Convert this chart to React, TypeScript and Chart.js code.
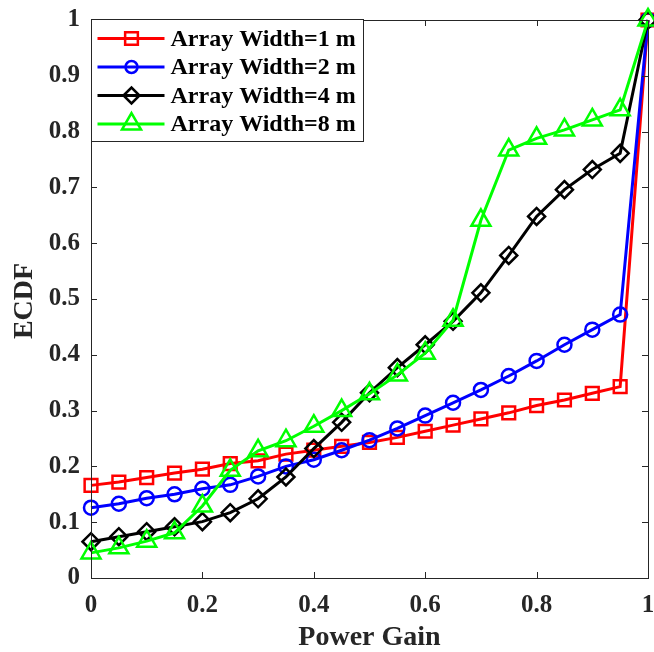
import React, { useEffect, useRef } from "react";
import { Chart, registerables } from "chart.js";

Chart.register(...registerables);

// Power gain sample points (x axis)
const powerGain = [0, 0.05, 0.1, 0.15, 0.2, 0.25, 0.3, 0.35, 0.4, 0.45, 0.5, 0.55, 0.6, 0.65, 0.7, 0.75, 0.8, 0.85, 0.9, 0.95, 1];

// ECDF values per array width
const ecdfWidth1m = [0.166, 0.172, 0.18, 0.188, 0.195, 0.205, 0.21, 0.222, 0.229, 0.236, 0.243, 0.252, 0.263, 0.274, 0.285, 0.296, 0.309, 0.319, 0.331, 0.343, 1];
const ecdfWidth2m = [0.126, 0.133, 0.143, 0.15, 0.16, 0.167, 0.182, 0.2, 0.212, 0.229, 0.247, 0.268, 0.291, 0.314, 0.337, 0.362, 0.389, 0.418, 0.445, 0.472, 1];
const ecdfWidth4m = [0.065, 0.074, 0.083, 0.092, 0.101, 0.117, 0.142, 0.181, 0.232, 0.279, 0.332, 0.377, 0.418, 0.46, 0.511, 0.578, 0.648, 0.696, 0.732, 0.761, 1];
const ecdfWidth8m = [0.045, 0.054, 0.066, 0.081, 0.129, 0.193, 0.228, 0.246, 0.272, 0.3, 0.33, 0.364, 0.403, 0.462, 0.641, 0.767, 0.788, 0.803, 0.821, 0.839, 1];

const seriesLabels = ["Array Width=1 m", "Array Width=2 m", "Array Width=4 m", "Array Width=8 m"];
const seriesColors = ["#ff0000", "#0000ff", "#000000", "#00ff00"];
const seriesMarkers = ["rect", "circle", "rectRot", "triangle"];
const seriesMarkerRadius = [9, 7, 8.5, 11];
const legendMarkerRadius = [9, 6, 8, 11];

const xTickValues = [0, 0.2, 0.4, 0.6, 0.8, 1];
const yTickValues = [0, 0.1, 0.2, 0.3, 0.4, 0.5, 0.6, 0.7, 0.8, 0.9, 1];

const xTitle = "Power Gain";
const yTitle = "ECDF";

const SERIF = '"Liberation Serif", "Times New Roman", serif';
const AXIS_COLOR = "#262626";

function fmt(v: number) {
  return String(Number(v.toFixed(2)));
}

function drawMarker(ctx: CanvasRenderingContext2D, style: string, x: number, y: number, r: number) {
  ctx.beginPath();
  if (style === "rect") {
    const s = Math.SQRT1_2 * r;
    ctx.rect(x - s, y - s, 2 * s, 2 * s);
  } else if (style === "circle") {
    ctx.arc(x, y, r, 0, Math.PI * 2);
  } else if (style === "rectRot") {
    ctx.moveTo(x - r, y);
    ctx.lineTo(x, y - r);
    ctx.lineTo(x + r, y);
    ctx.lineTo(x, y + r);
    ctx.closePath();
  } else {
    let a = 0;
    ctx.moveTo(x + Math.sin(a) * r, y - Math.cos(a) * r);
    a += (2 * Math.PI) / 3;
    ctx.lineTo(x + Math.sin(a) * r, y - Math.cos(a) * r);
    a += (2 * Math.PI) / 3;
    ctx.lineTo(x + Math.sin(a) * r, y - Math.cos(a) * r);
    ctx.closePath();
  }
  ctx.stroke();
}

// Box frame with inward ticks, axis titles and the inset legend
const framePlugin = {
  id: "frameAndLegend",
  afterDatasetsDraw(chart: any) {
    const { ctx, chartArea } = chart;
    const { left, right, top, bottom } = chartArea;
    const xs = chart.scales.x;
    const ys = chart.scales.y;
    ctx.save();

    // frame
    ctx.strokeStyle = AXIS_COLOR;
    ctx.lineWidth = 1;
    ctx.strokeRect(Math.round(left) + 0.5, Math.round(top) + 0.5, Math.round(right - left), Math.round(bottom - top));

    // inward ticks
    const tl = 6;
    ctx.beginPath();
    xTickValues.forEach((v) => {
      const px = Math.round(xs.getPixelForValue(v)) + 0.5;
      ctx.moveTo(px, bottom);
      ctx.lineTo(px, bottom - tl);
      ctx.moveTo(px, top);
      ctx.lineTo(px, top + tl);
    });
    yTickValues.forEach((v) => {
      const py = Math.round(ys.getPixelForValue(v)) + 0.5;
      ctx.moveTo(left, py);
      ctx.lineTo(left + tl, py);
      ctx.moveTo(right, py);
      ctx.lineTo(right - tl, py);
    });
    ctx.stroke();

    // axis titles
    ctx.fillStyle = AXIS_COLOR;
    ctx.textAlign = "center";
    ctx.textBaseline = "middle";
    ctx.font = `bold 28px ${SERIF}`;
    ctx.fillText(xTitle, (left + right) / 2, 638);
    ctx.save();
    ctx.translate(25, 301);
    ctx.rotate(-Math.PI / 2);
    ctx.font = `bold 28px ${SERIF}`;
    ctx.fillText(yTitle, 0, 0);
    ctx.restore();

    // legend
    const bx = left + 0.5;
    const by = top - 0.5;
    const bw = 272;
    const bh = 122;
    ctx.fillStyle = "#ffffff";
    ctx.fillRect(bx, by, bw, bh);
    ctx.strokeStyle = AXIS_COLOR;
    ctx.lineWidth = 1;
    ctx.strokeRect(bx, by, bw, bh);
    seriesLabels.forEach((label, i) => {
      const cy = by + 19 + i * 28.5;
      ctx.strokeStyle = seriesColors[i];
      ctx.lineWidth = 3;
      ctx.beginPath();
      ctx.moveTo(bx + 6, cy);
      ctx.lineTo(bx + 73, cy);
      ctx.stroke();
      ctx.lineWidth = 2.5;
      drawMarker(ctx, seriesMarkers[i], bx + 40, cy, legendMarkerRadius[i]);
      ctx.fillStyle = "#000000";
      ctx.textAlign = "left";
      ctx.textBaseline = "middle";
      ctx.font = `bold 24px ${SERIF}`;
      ctx.fillText(label, bx + 79, cy + 1);
    });

    ctx.restore();
  },
};

function clearScalePadding(s: any) {
  s.paddingTop = 0;
  s.paddingBottom = 0;
  s.paddingLeft = 0;
  s.paddingRight = 0;
}

export default function App() {
  const canvasRef = useRef<HTMLCanvasElement | null>(null);

  useEffect(() => {
    const canvas = canvasRef.current;
    if (!canvas) return;
    const seriesData = [ecdfWidth1m, ecdfWidth2m, ecdfWidth4m, ecdfWidth8m];
    const chart = new Chart(canvas, {
      type: "line",
      data: {
        datasets: seriesData.map((vals, i) => ({
          label: seriesLabels[i],
          data: powerGain.map((x, j) => ({ x, y: vals[j] })),
          borderColor: seriesColors[i],
          backgroundColor: "rgba(0,0,0,0)",
          pointBackgroundColor: "rgba(0,0,0,0)",
          pointBorderColor: seriesColors[i],
          pointStyle: seriesMarkers[i] as any,
          pointRadius: seriesMarkerRadius[i],
          pointBorderWidth: 2.5,
          borderWidth: 3,
          tension: 0,
          clip: false as any,
          order: 3 - i,
        })),
      },
      options: {
        animation: false,
        responsive: false,
        devicePixelRatio: 1,
        layout: { autoPadding: false, padding: { top: 20, right: 6, left: 0, bottom: 0 } },
        plugins: { legend: { display: false }, tooltip: { enabled: false } },
        scales: {
          x: {
            type: "linear",
            min: 0,
            max: 1,
            grid: { display: false, drawTicks: false },
            border: { display: false },
            afterFit: (s: any) => {
              s.height = 74;
              clearScalePadding(s);
            },
            afterBuildTicks: (s: any) => {
              s.ticks = xTickValues.map((v) => ({ value: v }));
            },
            ticks: {
              color: AXIS_COLOR,
              padding: 13,
              maxRotation: 0,
              font: { family: SERIF, size: 25, weight: "bold" },
              callback: (v: any) => fmt(Number(v)),
            },
          },
          y: {
            type: "linear",
            min: 0,
            max: 1,
            grid: { display: false, drawTicks: false },
            border: { display: false },
            afterFit: (s: any) => {
              s.width = 91;
              clearScalePadding(s);
            },
            afterBuildTicks: (s: any) => {
              s.ticks = yTickValues.map((v) => ({ value: v }));
            },
            ticks: {
              color: AXIS_COLOR,
              padding: 11,
              font: { family: SERIF, size: 25, weight: "bold" },
              callback: (v: any) => fmt(Number(v)),
            },
          },
        },
      },
      plugins: [framePlugin],
    });
    return () => chart.destroy();
  }, []);

  return (
    <div style={{ position: "fixed", left: 0, top: 0, width: 654, height: 652, background: "#ffffff" }}>
      <canvas ref={canvasRef} width={654} height={652} />
    </div>
  );
}
